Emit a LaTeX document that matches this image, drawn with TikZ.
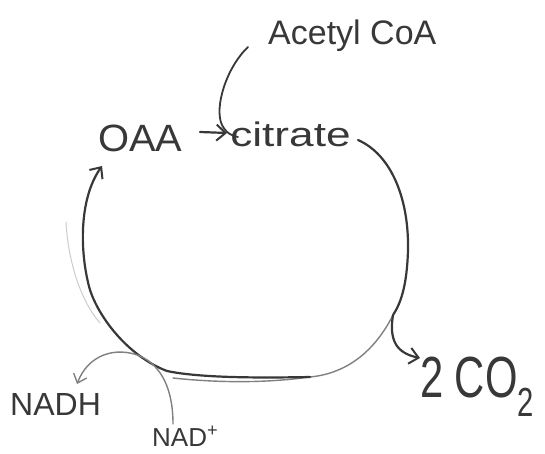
\documentclass[tikz,border=0pt]{standalone}
\usepackage{fontspec}
\setmainfont{Liberation Sans}
\usetikzlibrary{arrows.meta}
\definecolor{ink}{gray}{0.22}
\definecolor{pale}{gray}{0.5}
\definecolor{faint}{gray}{0.8}
\begin{document}
\begin{tikzpicture}[x=1pt,y=-1pt,
  lbl/.style={inner sep=0pt, text=ink},
  main/.style={draw=ink, line width=2.2pt, line cap=round},
  thin/.style={draw=pale, line width=1.4pt, line cap=round},
  ghost/.style={draw=faint, line width=1pt, line cap=round},
  barb/.style={-{Straight Barb[length=9pt,width=16pt,line width=2pt]}},
  barbthin/.style={-{Straight Barb[length=8pt,width=14pt,line width=1.4pt]}}]
\useasboundingbox (0,0) rectangle (545,454);
\fill[white] (0,0) rectangle (545,454);

% labels
\node[lbl, anchor=base west, font=\fontsize{34}{34}\selectfont] (acoa) at (268,45) {Acetyl CoA};
\node[lbl, anchor=base west, font=\fontsize{38}{38}\selectfont, xscale=1.05] (oaa) at (98,152) {OAA};
\node[lbl, anchor=base west, font=\fontsize{34}{34}\selectfont, xscale=1.3] (cit) at (230,147) {citrate};
\node[lbl, anchor=base west, font=\fontsize{32}{32}\selectfont] (nadh) at (10,415) {NADH};
\node[lbl, anchor=base west, font=\fontsize{26}{26}\selectfont] (nadp) at (152,446) {NAD\textsuperscript{+}};
\node[lbl, anchor=base west, font=\fontsize{58}{58}\selectfont, xscale=0.72] (co2) at (420,397) {2 CO\textsubscript{2}};

% connector end points
\coordinate (acs) at (248,47);
\coordinate (oaaout) at (200,132);
\coordinate (citin) at (227,133);
\coordinate (citout) at (358,140);
\coordinate (split) at (393,315);
\coordinate (bot) at (310,377);
\coordinate (oaain) at (102,166);
\coordinate (co2in) at (420,358);
\coordinate (nadpout) at (173,424);
\coordinate (nadhin) at (77,384);

% acetyl CoA joining citrate
\draw[main, line width=1.8pt] (acs) .. controls (226,68) and (214,108) .. (222,125)
  .. controls (226,133) and (232,136) .. (238,137);
% OAA -> citrate
\draw[main, barb] (oaaout) -- (citin);

% the cycle
\draw[main] (citout) .. controls (392,155) and (409,200) .. (408,250)
  .. controls (407,285) and (401,303) .. (split);
\draw[thin] (split) .. controls (378,345) and (352,373) .. (bot)
  .. controls (260,384) and (210,382) .. (173,378);
\draw[main, barb] (bot) .. controls (260,378) and (200,378) .. (167,371)
  .. controls (130,357) and (100,320) .. (90,290)
  .. controls (80,255) and (78,200) .. (oaain);
\draw[ghost] (66,222) .. controls (68,260) and (80,300) .. (100,323);

% to 2 CO2
\draw[main, barb] (split) .. controls (389,340) and (396,353) .. (co2in);

% NAD+ -> NADH
\draw[thin, barbthin] (nadpout) .. controls (173,390) and (162,366) .. (140,356)
  .. controls (115,346) and (88,355) .. (nadhin);
\end{tikzpicture}
\end{document}
